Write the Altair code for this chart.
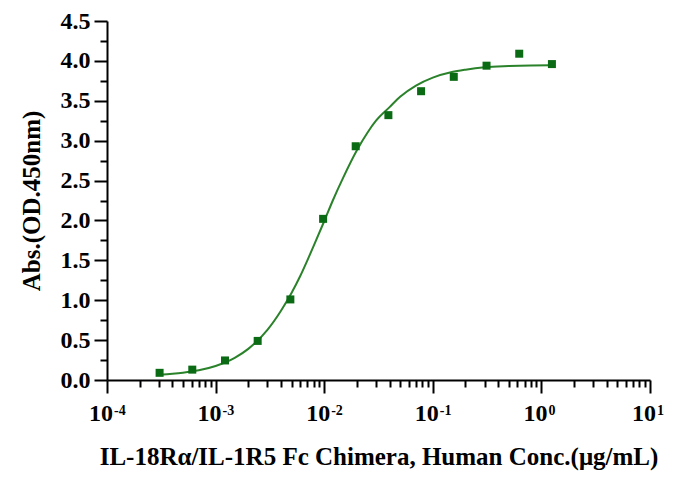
import pandas as pd
import altair as alt

# --- measured points ---
conc = [0.000305, 0.00061, 0.00122, 0.00244, 0.00488, 0.00977, 0.0195,
        0.039, 0.078, 0.156, 0.3125, 0.625, 1.25]
absorb = [0.09, 0.13, 0.245, 0.49, 1.01, 2.02, 2.93,
          3.32, 3.62, 3.80, 3.94, 4.09, 3.96]

# --- fitted curve ---
fit_conc = [0.0003, 0.0004, 0.0005, 0.0007, 0.001, 0.0015, 0.002, 0.003,
            0.004, 0.005, 0.006, 0.007, 0.008, 0.01, 0.012, 0.015, 0.02,
            0.025, 0.03, 0.04, 0.05, 0.07, 0.1, 0.15, 0.2, 0.3, 0.5, 0.8, 1.25]
fit_abs = [0.064, 0.077, 0.091, 0.122, 0.176, 0.278, 0.39, 0.628,
           0.868, 1.09, 1.30, 1.50, 1.68, 1.99, 2.25, 2.54, 2.88,
           3.10, 3.25, 3.42, 3.55, 3.69, 3.79, 3.86, 3.89, 3.92, 3.935, 3.943, 3.946]

# --- axis ticks ---
x_ticks = [1e-4, 1e-3, 1e-2, 1e-1, 1e0, 1e1]
x_base = ['10', '10', '10', '10', '10', '10']
x_exp = ['-4', '-3', '-2', '-1', '0', '1']
y_ticks = [0.0, 0.25, 0.5, 0.75, 1.0, 1.25, 1.5, 1.75, 2.0, 2.25, 2.5, 2.75,
           3.0, 3.25, 3.5, 3.75, 4.0, 4.25, 4.5]

pts = pd.DataFrame({'conc': conc, 'abs': absorb})
fit = pd.DataFrame({'conc': fit_conc, 'abs': fit_abs})
xlab = pd.DataFrame({'conc': x_ticks, 'base': x_base, 'exp': x_exp})

# minor ticks 2..9 in every decade
x_all = []
for d in x_ticks[:-1]:
    x_all += [d * k for k in range(1, 10)]
x_all.append(x_ticks[-1])

is_decade = "abs(log(datum.value)/LN10 - round(log(datum.value)/LN10)) < 1e-6"
is_major_y = "abs(datum.value*2 - round(datum.value*2)) < 1e-6"

FONT = 'Liberation Serif'
GREEN_PT = '#0b6b14'
GREEN_LN = '#2a822a'
H = 359

x_enc = alt.X(
    'conc:Q',
    scale=alt.Scale(type='log', domain=[1e-4, 10], nice=False),
    axis=alt.Axis(
        title='IL-18Rα/IL-1R5 Fc Chimera, Human Conc.(μg/mL)',
        values=x_all, tickCount=200, labels=False,
        tickSize={'condition': {'test': is_decade, 'value': 13}, 'value': 7},
        grid=False, titleBaseline='alphabetic', titleY=84,
    ),
)
y_enc = alt.Y(
    'abs:Q',
    scale=alt.Scale(domain=[0, 4.5], nice=False),
    axis=alt.Axis(
        title='Abs.(OD.450nm)',
        values=y_ticks, tickCount=200, format='.1f',
        labelExpr=f"{is_major_y} ? datum.label : ''",
        tickSize={'condition': {'test': is_major_y, 'value': 13}, 'value': 7},
        grid=False, labelFlush=False, labelOverlap=False,
        labelPadding=4, titlePadding=16,
    ),
)

curve = alt.Chart(fit).mark_line(color=GREEN_LN, strokeWidth=2, interpolate='monotone').encode(
    x=x_enc, y=y_enc
)
dots = alt.Chart(pts).mark_square(color=GREEN_PT, opacity=1, size=64).encode(
    x='conc:Q', y='abs:Q'
)

# decade labels with raised exponents
lab_base = alt.Chart(xlab).mark_text(
    align='right', baseline='alphabetic', dx=6, font=FONT, fontSize=24,
    fontWeight='bold', color='black'
).encode(x='conc:Q', y=alt.value(H + 41), text='base:N')
lab_exp = alt.Chart(xlab).mark_text(
    align='left', baseline='alphabetic', dx=7, font=FONT, fontSize=14,
    fontWeight='bold', color='black'
).encode(x='conc:Q', y=alt.value(H + 35), text='exp:N')

chart = alt.layer(curve, dots, lab_base, lab_exp).properties(
    width=543, height=H,
    autosize='none',
    padding={'left': 99, 'top': 13, 'right': 19, 'bottom': 94},
).configure_view(
    stroke=None
).configure_axis(
    domainColor='black', domainWidth=2, tickColor='black', tickWidth=2,
    labelFont=FONT, labelFontSize=24, labelFontWeight='bold', labelColor='black',
    titleFont=FONT, titleFontSize=25, titleFontWeight='bold', titleColor='black',
)

chart.save("out.html", embed_options={"renderer": "svg", "actions": False})
